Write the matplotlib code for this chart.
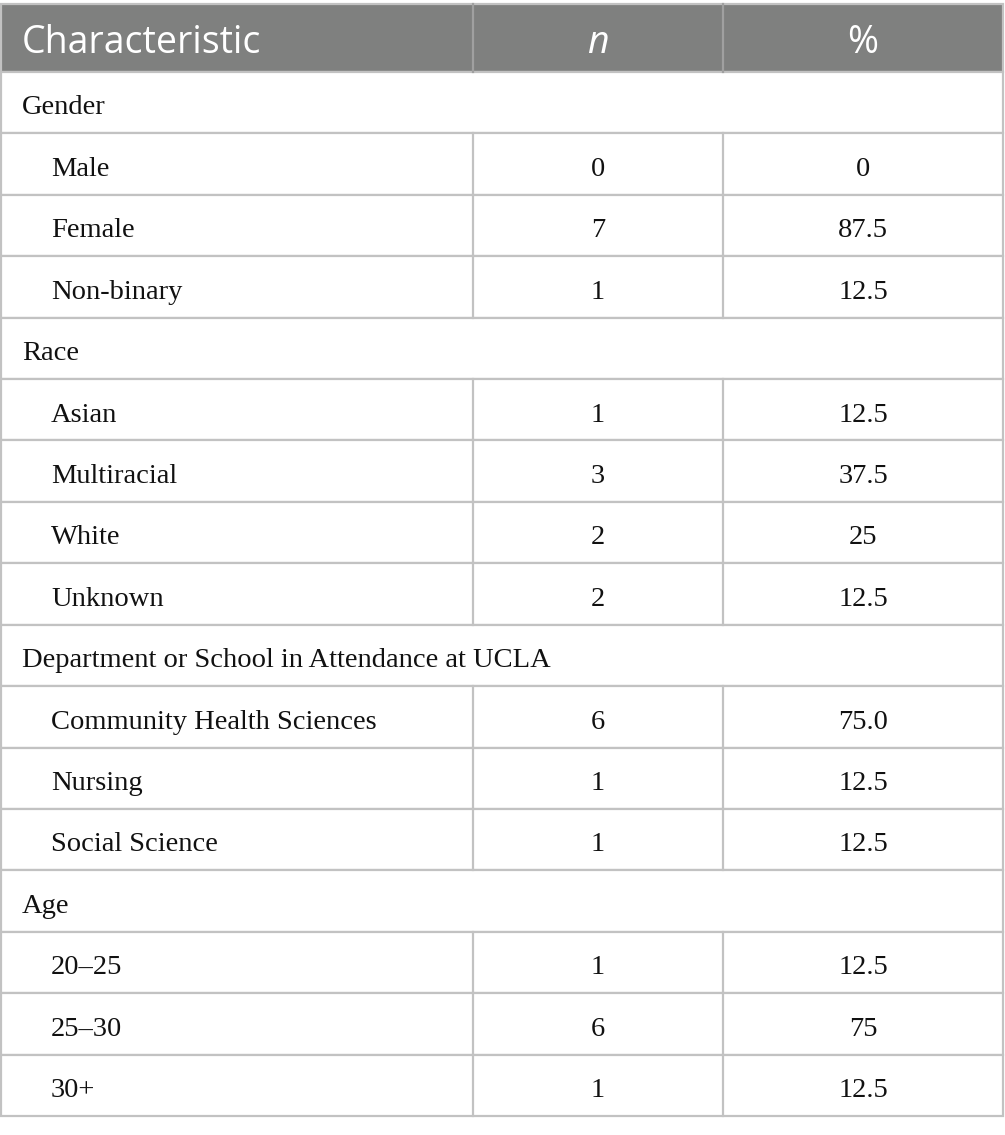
import matplotlib
matplotlib.use("Agg")
import matplotlib.pyplot as plt
from matplotlib.patches import Rectangle

# ---- data ----
header = ["Characteristic", "n", "%"]
sections = ["Gender", "Race", "Department or School in Attendance at UCLA", "Age"]
gender_labels = ["Male", "Female", "Non-binary"]
gender_n = ["0", "7", "1"]
gender_pct = ["0", "87.5", "12.5"]
race_labels = ["Asian", "Multiracial", "White", "Unknown"]
race_n = ["1", "3", "2", "2"]
race_pct = ["12.5", "37.5", "25", "12.5"]
dept_labels = ["Community Health Sciences", "Nursing", "Social Science"]
dept_n = ["6", "1", "1"]
dept_pct = ["75.0", "12.5", "12.5"]
age_labels = ["20\u201325", "25\u201330", "30+"]
age_n = ["1", "6", "1"]
age_pct = ["12.5", "75", "12.5"]

groups = [
    (sections[0], gender_labels, gender_n, gender_pct),
    (sections[1], race_labels, race_n, race_pct),
    (sections[2], dept_labels, dept_n, dept_pct),
    (sections[3], age_labels, age_n, age_pct),
]

# ---- layout ----
W, H = 1005, 1135
fig = plt.figure(figsize=(W / 100, H / 100), dpi=100)
ax = fig.add_axes([0, 0, 1, 1])
ax.set_xlim(0, W)
ax.set_ylim(H, 0)
ax.axis("off")

x0, x1, x2, x3 = 1, 473, 723, 1003
top, head_bot = 4, 72
row_h = (1116 - 72) / 17.0
line_c = "#c2c2c2"
lw = 1.6
head_c = "#7f807f"
serif = ["Liberation Serif", "DejaVu Serif"]
sans = ["Open Sans", "DejaVu Sans"]
body_fs = 20.5
head_fs = 27
txt_c = "#111111"
base_off = 42.5

# header
ax.add_patch(Rectangle((x0, top), x3 - x0, head_bot - top, facecolor=head_c,
                       edgecolor=line_c, lw=lw))
for xv in (x1, x2):
    ax.plot([xv, xv], [top, head_bot], color="#a0a0a0", lw=lw)
hy = 53
ax.text(22, hy, header[0], color="white", fontsize=head_fs, family=sans,
        va="baseline", ha="left")
ax.text((x1 + x2) / 2, hy, header[1], color="white", fontsize=head_fs,
        family=sans, style="italic", va="baseline", ha="center")
ax.text((x2 + x3) / 2, hy, header[2], color="white", fontsize=head_fs,
        family=sans, va="baseline", ha="center")

# body
y = head_bot
for sec, labels, ns, pcts in groups:
    ax.add_patch(Rectangle((x0, y), x3 - x0, row_h, facecolor="white",
                           edgecolor=line_c, lw=lw))
    ax.text(22, y + base_off, sec, fontsize=body_fs, family=serif,
            va="baseline", ha="left", color=txt_c)
    y += row_h
    for lab, nv, pv in zip(labels, ns, pcts):
        ax.add_patch(Rectangle((x0, y), x3 - x0, row_h, facecolor="white",
                               edgecolor=line_c, lw=lw))
        for xv in (x1, x2):
            ax.plot([xv, xv], [y, y + row_h], color=line_c, lw=lw)
        yb = y + base_off
        ax.text(51, yb, lab, fontsize=body_fs, family=serif, va="baseline",
                ha="left", color=txt_c)
        ax.text((x1 + x2) / 2, yb, nv, fontsize=body_fs, family=serif,
                va="baseline", ha="center", color=txt_c)
        ax.text((x2 + x3) / 2, yb, pv, fontsize=body_fs, family=serif,
                va="baseline", ha="center", color=txt_c)
        y += row_h

fig.savefig("out.png", dpi=100, facecolor="white")
